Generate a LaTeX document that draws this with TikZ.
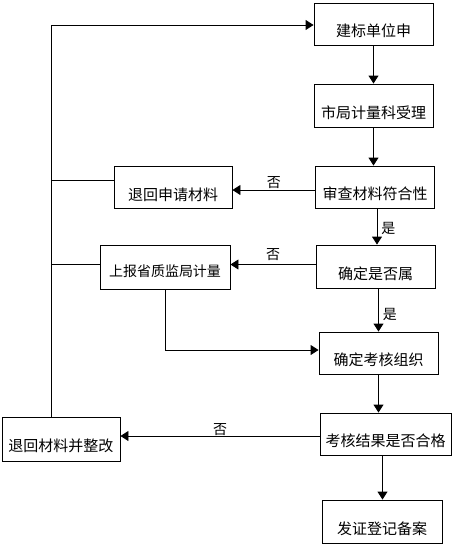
\documentclass[tikz,border=0pt]{standalone}
\usepackage{fontspec}
\setmainfont{Noto Sans CJK SC}
\usetikzlibrary{arrows.meta,positioning}

\begin{document}
\begin{tikzpicture}[
    x=1pt, y=-1pt,
    box/.style={rectangle, draw, line width=0.9pt, inner sep=0pt, minimum width=119pt, minimum height=42pt, font=\fontsize{15}{15}\selectfont, text height=25pt, text depth=0pt},
    tag/.style={font=\fontsize{14}{14}\selectfont, inner sep=1pt},
    arrow/.style={-{Triangle[width=10pt,length=8pt]}, line width=0.9pt},
    link/.style={line width=0.9pt}
]
\useasboundingbox (0,0) rectangle (455,547);

% Main column
\node[box] (apply) at (373.5,24) {建标单位申};
\node[box, minimum height=43pt] (accept) at (373.5,105.5) {市局计量科受理};
\node[box] (review) at (375,187) {审查材料符合性};
\node[box, minimum height=43pt] (belong) at (375.5,266.5) {确定是否属};
\node[box] (organize) at (378.5,353) {确定考核组织};
\node[box, minimum width=131pt] (result) at (385.5,434) {考核结果是否合格};
\node[box, minimum width=120pt, minimum height=43pt] (cert) at (382,521.5) {发证登记备案};

% Left side
\node[box, minimum width=118pt] (returnA) at (173,187.5) {退回申请材料};
\node[box, minimum width=130pt, minimum height=44pt, font=\fontsize{14}{14}\selectfont, text height=19pt] (report) at (165,267) {上报省质监局计量};
\node[box, minimum width=118pt, minimum height=44pt] (returnB) at (61,439) {退回材料并整改};

% Feedback line
\coordinate (spine) at ([xshift=-10pt]returnB.north);

% Arrows
\draw[arrow] (apply.south) -- (apply.south |- accept.north);
\draw[arrow] (accept.south) -- (accept.south |- review.north);
\draw[arrow] ([yshift=-3pt]review.west) -- node[tag, above] {否} ([yshift=-3pt]review.west -| returnA.east);
\draw[arrow] ([xshift=2pt]review.south) -- node[tag, right=3pt, pos=0.55] {是} ([xshift=2pt]review.south |- belong.north);
\draw[arrow] ([yshift=2pt]belong.west) -- node[tag, above=2pt] {否} ([yshift=2pt]belong.west -| report.east);
\draw[arrow] ([xshift=3pt]belong.south) -- node[tag, right=3pt, pos=0.6] {是} ([xshift=3pt]belong.south |- organize.north);
\draw[arrow] (report.south) |- ([yshift=3pt]organize.west);
\draw[arrow] (organize.south) -- (organize.south |- result.north);
\draw[arrow] ([yshift=-2pt]result.west) -- node[tag, above=-1pt] {否} ([yshift=-2pt]result.west -| returnB.east);
\draw[arrow] ([xshift=-3pt]result.south) -- ([xshift=-3pt]result.south |- cert.north);
\draw[arrow] (spine) |- ([yshift=-1pt]apply.west);
\draw[link] ([yshift=7pt]returnA.west) -- ([yshift=7pt]returnA.west -| spine);
\draw[link] ([yshift=3pt]report.west) -- ([yshift=3pt]report.west -| spine);

\end{tikzpicture}
\end{document}
